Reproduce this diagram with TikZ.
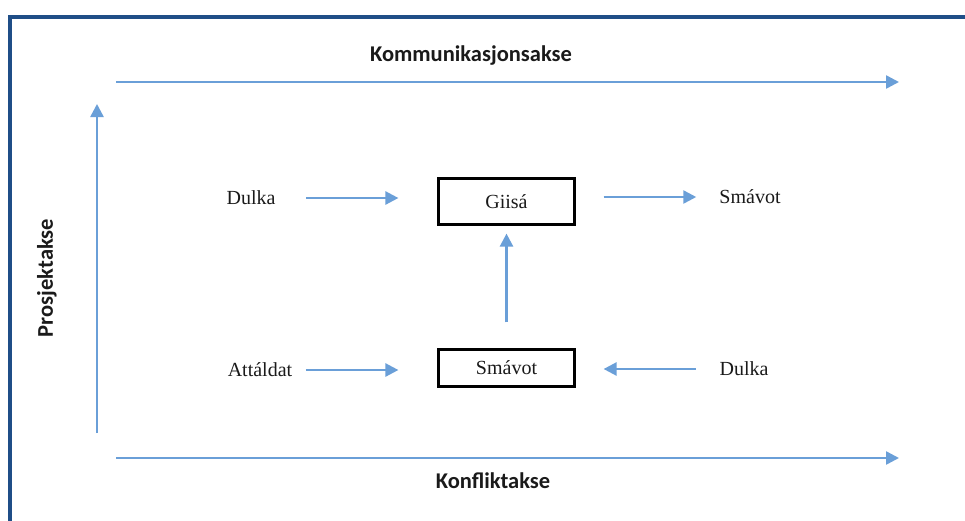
\documentclass[tikz,border=0pt]{standalone}
\usepackage{fontspec}
\setmainfont{Liberation Serif}
\newfontfamily\axisfont{Carlito}
\usetikzlibrary{arrows.meta}
\definecolor{frameblue}{HTML}{1F4E87}
\definecolor{arrowblue}{HTML}{6A9FD8}
\definecolor{textgray}{HTML}{1A1A1A}
\tikzset{
  arr/.style={draw=arrowblue, line width=2.5pt, -{Triangle[length=13pt,width=13pt]}},
  boxnode/.style={draw=black, line width=2.2pt, minimum width=136pt, font=\fontsize{20}{24}\selectfont, inner sep=0pt, text=textgray},
  lbl/.style={font=\fontsize{20}{24}\selectfont, inner sep=0pt, text=textgray},
  axislbl/.style={font=\axisfont\bfseries\fontsize{22.5}{27}\selectfont, inner sep=0pt, text=textgray},
}
\begin{document}
\begin{tikzpicture}[x=1pt,y=-1pt]
\useasboundingbox (0,0) rectangle (965,520);
\fill[white] (0,0) rectangle (965,520);
% frame
\draw[frameblue, line width=4.5pt] (10,522) -- (10,17) -- (967,17);
% axis labels
\node[axislbl] (komm) at (471,56) {Kommunikasjonsakse};
\node[axislbl] (konf) at (493,481) {Konfliktakse};
\node[axislbl, rotate=90] (prosj) at (47,278) {Prosjektakse};
% axes
\coordinate (topA) at (116,82);
\coordinate (topB) at (899,82);
\coordinate (botA) at (116,458);
\coordinate (botB) at (899,458);
\coordinate (vertA) at (97,433);
\coordinate (vertB) at (97,104);
\draw[arr] (topA) -- (topB);
\draw[arr] (botA) -- (botB);
\draw[arr] (vertA) -- (vertB);
% boxes
\node[boxnode, minimum height=46pt] (giisa) at (506.5,201.5) {Giisá};
\node[boxnode, minimum height=37pt] (smavot) at (506.5,368) {Smávot};
% labels
\node[lbl] (dulkaL) at (251,198) {Dulka};
\node[lbl] (smavotR) at (750,197) {Smávot};
\node[lbl] (attaldat) at (260,370) {Attáldat};
\node[lbl] (dulkaR) at (744,369) {Dulka};
% connectors
\draw[arr, shorten <=30.5pt, shorten >=39pt] (dulkaL.east) -- (dulkaL.east -| giisa.west);
\draw[arr, shorten <=28pt, shorten >=23pt] (smavotR.west -| giisa.east) -- (smavotR.west);
\draw[arr, shorten <=13.5pt, shorten >=39pt] (attaldat.east) -- (attaldat.east -| smavot.west);
\draw[arr, shorten <=23.5pt, shorten >=28pt] (dulkaR.west) -- (dulkaR.west -| smavot.east);
\draw[arr, shorten <=26pt, shorten >=8pt] (smavot.north) -- (giisa.south);
\end{tikzpicture}
\end{document}
